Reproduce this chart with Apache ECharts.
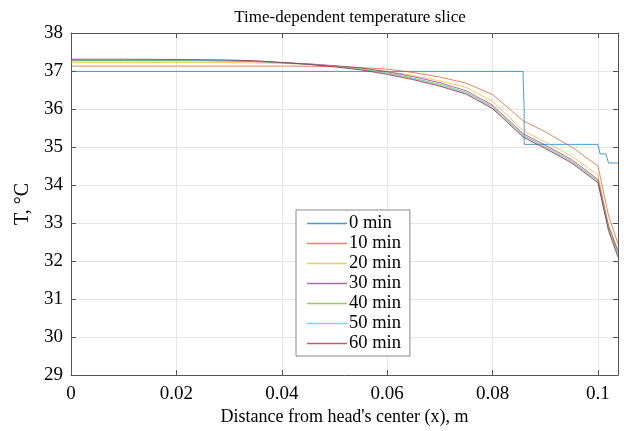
<!DOCTYPE html>
<html>
<head>
<meta charset="utf-8">
<script src="https://cdn.jsdelivr.net/npm/echarts@6/dist/echarts.min.js"></script>
<style>html,body{margin:0;padding:0;background:#fff}#c{width:624px;height:431px}</style>
</head>
<body>
<div id="c"></div>
<script>
// Shared x positions (m) for the 10–60 min curves
var xPos = [0, 0.01, 0.02, 0.025, 0.03, 0.035, 0.04, 0.045, 0.05, 0.055, 0.06, 0.065, 0.07, 0.075, 0.08, 0.0858, 0.09, 0.095, 0.1, 0.102, 0.1038];
// 0 min (initial, piecewise constant)
var x0 = [0, 0.0858, 0.0858, 0.0859, 0.0860, 0.0860, 0.1, 0.1004, 0.1015, 0.102, 0.1038];
var t0 = [36.99, 36.99, 36.8, 36.8, 36.0, 35.07, 35.07, 34.82, 34.82, 34.58, 34.58];
var t10 = [37.13, 37.13, 37.13, 37.13, 37.13, 37.13, 37.13, 37.125, 37.115, 37.09, 37.05, 36.96, 36.84, 36.68, 36.38, 35.69, 35.4, 35.0, 34.5, 33.2, 32.45];
var t20 = [37.22, 37.22, 37.22, 37.22, 37.22, 37.215, 37.2, 37.175, 37.14, 37.08, 36.99, 36.88, 36.74, 36.57, 36.2, 35.43, 35.13, 34.76, 34.27, 32.95, 32.3];
var t30 = [37.27, 37.27, 37.27, 37.27, 37.265, 37.25, 37.22, 37.19, 37.14, 37.08, 36.98, 36.85, 36.69, 36.48, 36.1, 35.35, 35.05, 34.67, 34.15, 32.92, 32.25];
var t40 = [37.28, 37.28, 37.28, 37.275, 37.27, 37.255, 37.22, 37.18, 37.13, 37.06, 36.95, 36.81, 36.65, 36.44, 36.06, 35.31, 35.01, 34.63, 34.11, 32.87, 32.19];
var t50 = [37.29, 37.29, 37.29, 37.28, 37.275, 37.26, 37.22, 37.18, 37.12, 37.04, 36.93, 36.79, 36.62, 36.41, 36.03, 35.28, 34.98, 34.6, 34.08, 32.83, 32.14];
var t60 = [37.31, 37.31, 37.305, 37.3, 37.29, 37.27, 37.225, 37.175, 37.11, 37.03, 36.91, 36.77, 36.6, 36.39, 36.01, 35.26, 34.96, 34.58, 34.06, 32.8, 32.1];

var seriesNames = ['0 min', '10 min', '20 min', '30 min', '40 min', '50 min', '60 min'];
var seriesColors = ['#0072BD', '#D95319', '#EDB120', '#7E2F8E', '#77AC30', '#4DBEEE', '#A2142F'];
var xTicks = [0, 0.02, 0.04, 0.06, 0.08, 0.1];
var yTicks = [29, 30, 31, 32, 33, 34, 35, 36, 37, 38];

function zip(xs, ys) { return xs.map(function (x, i) { return [x, ys[i]]; }); }
var allData = [zip(x0, t0), zip(xPos, t10), zip(xPos, t20), zip(xPos, t30), zip(xPos, t40), zip(xPos, t50), zip(xPos, t60)];

var FONT = 'Liberation Serif';
var AX = '#555';
var chart = echarts.init(document.getElementById('c'), null, {renderer: 'canvas'});

var baseX = {
  type: 'value', min: xTicks[0], max: 0.1038, interval: xTicks[1] - xTicks[0],
  axisLine: {show: true, onZero: false, lineStyle: {color: AX, width: 1}},
  axisTick: {show: true, inside: true, length: 5, lineStyle: {color: AX}},
  splitLine: {show: false}
};
var baseY = {
  type: 'value', min: yTicks[0], max: yTicks[yTicks.length - 1], interval: 1,
  axisLine: {show: true, onZero: false, lineStyle: {color: AX, width: 1}},
  axisTick: {show: true, inside: true, length: 5, lineStyle: {color: AX}},
  splitLine: {show: false}
};

chart.setOption({
  animation: false,
  backgroundColor: '#fff',
  title: {
    text: 'Time-dependent temperature slice',
    left: 345, top: 4, textAlign: 'center',
    textStyle: {fontFamily: FONT, fontSize: 17, fontWeight: 'normal', color: '#000'}
  },
  grid: {left: 71, right: 6, top: 33, bottom: 55},
  legend: {
    orient: 'vertical', left: 296, top: 210,
    data: seriesNames,
    icon: 'rect', itemWidth: 40, itemHeight: 1.5, itemGap: 1,
    padding: [4, 9, 3, 11],
    backgroundColor: '#fff', borderColor: '#888', borderWidth: 1, borderRadius: 0,
    textStyle: {fontFamily: FONT, fontSize: 18.5, color: '#000', lineHeight: 18, padding: [0, 0, 0, -3]}
  },
  xAxis: [
    Object.assign({}, baseX, {
      position: 'bottom',
      name: "Distance from head's center (x), m", nameLocation: 'middle', nameGap: 29,
      nameTextStyle: {fontFamily: FONT, fontSize: 18, color: '#000'},
      axisLabel: {show: true, margin: 9, fontFamily: FONT, fontSize: 19, color: '#000', showMaxLabel: false,
        formatter: function (v) { return String(+v.toFixed(4)); }},
      splitLine: {show: true, lineStyle: {color: '#e6e6e6', width: 1}}
    }),
    Object.assign({}, baseX, {position: 'top', axisLabel: {show: false}})
  ],
  yAxis: [
    Object.assign({}, baseY, {
      position: 'left',
      name: 'T, °C', nameLocation: 'middle', nameGap: 38, nameMoveOverlap: false,
      nameTextStyle: {fontFamily: FONT, fontSize: 20, color: '#000'},
      axisLabel: {show: true, margin: 8, fontFamily: FONT, fontSize: 19, color: '#000'},
      splitLine: {show: true, lineStyle: {color: '#e6e6e6', width: 1}}
    }),
    Object.assign({}, baseY, {position: 'right', axisLabel: {show: false}})
  ],
  series: seriesNames.map(function (n, i) {
    return {
      name: n, type: 'line', data: allData[i], showSymbol: false, symbol: 'none',
      xAxisIndex: 0, yAxisIndex: 0,
      itemStyle: {color: seriesColors[i], opacity: 0.7},
      lineStyle: {color: seriesColors[i], width: 1, opacity: 0.7},
      emphasis: {disabled: true}
    };
  })
});
</script>
</body>
</html>
